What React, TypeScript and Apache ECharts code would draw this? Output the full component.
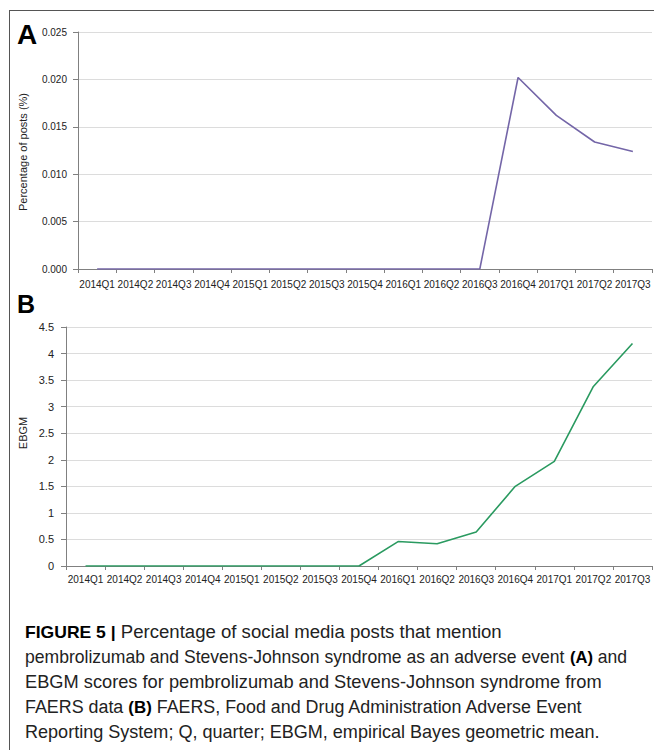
import React, { useEffect, useRef } from "react";
import * as echarts from "echarts";

const categories = [
  "2014Q1", "2014Q2", "2014Q3", "2014Q4",
  "2015Q1", "2015Q2", "2015Q3", "2015Q4",
  "2016Q1", "2016Q2", "2016Q3", "2016Q4",
  "2017Q1", "2017Q2", "2017Q3",
];
const postsPct = [0, 0, 0, 0, 0, 0, 0, 0, 0, 0, 0, 0.0202, 0.0162, 0.0134, 0.0124];
const ebgm = [0, 0, 0, 0, 0, 0, 0, 0, 0.46, 0.42, 0.64, 1.5, 1.97, 3.38, 4.19];

const captionLines = [
  "{b|FIGURE 5 |} Percentage of social media posts that mention",
  "pembrolizumab and Stevens-Johnson syndrome as an adverse event {b|(A)} and",
  "EBGM scores for pembrolizumab and Stevens-Johnson syndrome from",
  "FAERS data {b|(B)} FAERS, Food and Drug Administration Adverse Event",
  "Reporting System; Q, quarter; EBGM, empirical Bayes geometric mean.",
];
const captionEnds = [502, 627, 602, 584, 600];

const FONT = "'Liberation Sans', Arial, sans-serif";
const AXIS = "#808080";
const GRID = "#dcdcdc";
const CAP_X = 25;
const REG_FONT = `18px ${FONT}`;
const BOLD_FONT = `bold 17px ${FONT}`;

function measureRich(line: string): number {
  const canvas = document.createElement("canvas");
  const ctx = canvas.getContext("2d");
  if (!ctx) return 0;
  let total = 0;
  const re = /\{b\|([^}]*)\}/g;
  let last = 0;
  let m: RegExpExecArray | null;
  while ((m = re.exec(line))) {
    ctx.font = REG_FONT;
    total += ctx.measureText(line.slice(last, m.index)).width;
    ctx.font = BOLD_FONT;
    total += ctx.measureText(m[1]).width;
    last = m.index + m[0].length;
  }
  ctx.font = REG_FONT;
  total += ctx.measureText(line.slice(last)).width;
  return total;
}

export default function App() {
  const ref = useRef<HTMLDivElement>(null);
  useEffect(() => {
    if (!ref.current) return;
    const chart = echarts.init(ref.current, null, { renderer: "svg" });
    const xAxisBase = (gridIndex: number, margin: number) => ({
      type: "category",
      gridIndex,
      data: categories,
      boundaryGap: true,
      axisLine: { show: true, lineStyle: { color: AXIS, width: 1 } },
      axisTick: { show: true, length: 4, lineStyle: { color: AXIS } },
      axisLabel: { interval: 0, hideOverlap: false, margin, fontSize: 10, color: "#222", fontFamily: FONT },
      splitLine: { show: false },
    });
    const yAxisBase = (gridIndex: number, max: number, interval: number, fontSize: number, margin: number, fmt?: (v: number) => string) => ({
      type: "value",
      gridIndex,
      min: 0,
      max,
      interval,
      axisLine: { show: true, lineStyle: { color: AXIS, width: 1 } },
      axisTick: { show: true, length: 5, lineStyle: { color: AXIS } },
      axisLabel: { fontSize, color: "#222", fontFamily: FONT, margin, formatter: fmt },
      splitLine: { show: true, lineStyle: { color: GRID, width: 1.2 } },
    });
    const captionGraphics = captionLines.map((line, i) => {
      const w = measureRich(line);
      const sx = w > 0 ? (captionEnds[i] - CAP_X) / w : 1;
      return {
        type: "text",
        x: CAP_X,
        y: 632 + i * 25,
        scaleX: Math.min(1.15, Math.max(0.85, sx)),
        style: {
          text: line,
          font: REG_FONT,
          fill: "#222",
          textVerticalAlign: "middle",
          rich: {
            b: { fontWeight: "bold", fontSize: 17, fontFamily: FONT, fill: "#000" },
          },
        },
      };
    });
    chart.setOption({
      animation: false,
      backgroundColor: "#ffffff",
      grid: [
        { left: 78, right: 2, top: 32, bottom: 481 },
        { left: 66, right: 2, top: 327, bottom: 184 },
      ],
      xAxis: [xAxisBase(0, 10), xAxisBase(1, 8)],
      yAxis: [
        yAxisBase(0, 0.025, 0.005, 10, 11, (v: number) => v.toFixed(3)),
        yAxisBase(1, 4.5, 0.5, 11, 12),
      ],
      series: [
        {
          type: "line",
          xAxisIndex: 0,
          yAxisIndex: 0,
          data: postsPct,
          symbol: "none",
          lineStyle: { color: "#7466a8", width: 1.6 },
        },
        {
          type: "line",
          xAxisIndex: 1,
          yAxisIndex: 1,
          data: ebgm,
          symbol: "none",
          lineStyle: { color: "#2a9a60", width: 1.6 },
        },
      ],
      graphic: [
        { type: "line", shape: { x1: 9, y1: 10.5, x2: 654, y2: 10.5 }, style: { stroke: "#555", lineWidth: 1 } },
        { type: "line", shape: { x1: 9.5, y1: 10, x2: 9.5, y2: 750 }, style: { stroke: "#555", lineWidth: 1 } },
        { type: "text", x: 17, y: 48, style: { text: "A", font: `bold 28px ${FONT}`, fill: "#000", textVerticalAlign: "bottom" } },
        { type: "text", x: 17, y: 316, style: { text: "B", font: `bold 25px ${FONT}`, fill: "#000", textVerticalAlign: "bottom" } },
        {
          type: "text", x: 23, y: 152, rotation: Math.PI / 2,
          style: { text: "Percentage of posts (%)", font: `11px ${FONT}`, fill: "#222", textAlign: "center", textVerticalAlign: "middle" },
        },
        {
          type: "text", x: 23, y: 433, rotation: Math.PI / 2,
          style: { text: "EBGM", font: `11px ${FONT}`, fill: "#222", textAlign: "center", textVerticalAlign: "middle" },
        },
        ...captionGraphics,
      ],
    });
    return () => chart.dispose();
  }, []);
  return (
    <div
      ref={ref}
      style={{ position: "absolute", left: 0, top: 0, width: 654, height: 750 }}
    />
  );
}
